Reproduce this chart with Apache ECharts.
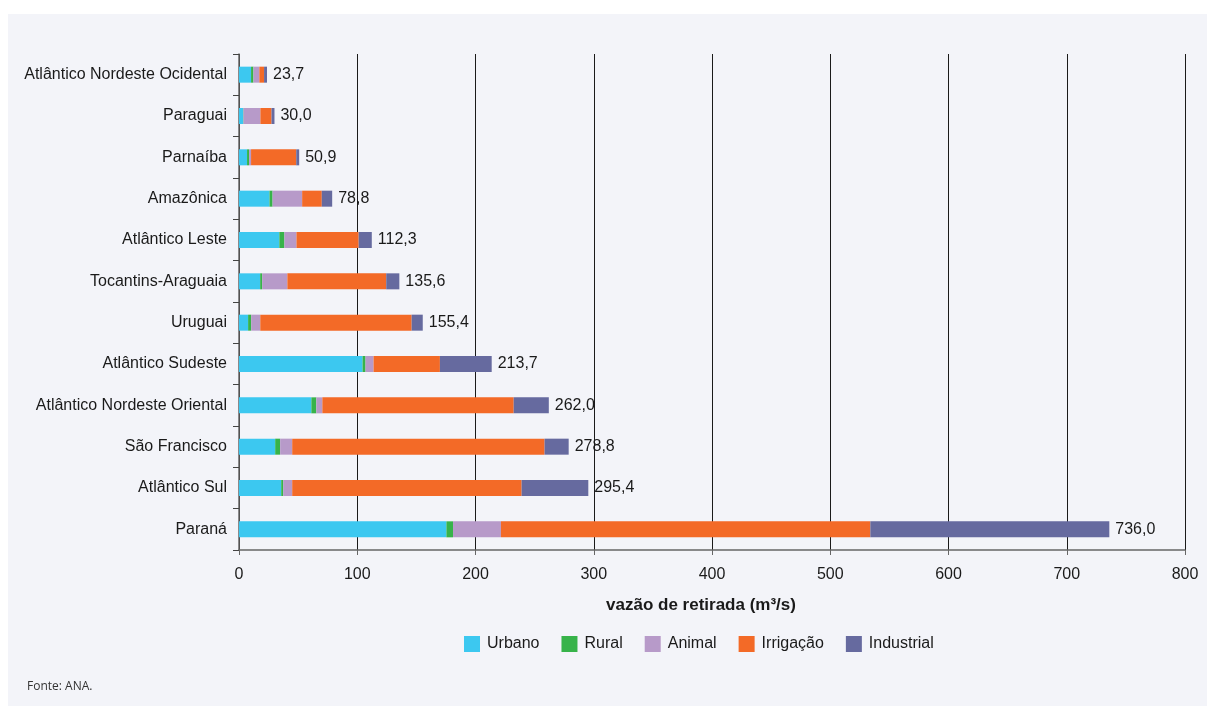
<!DOCTYPE html>
<html>
<head>
<meta charset="utf-8">
<script src="https://cdn.jsdelivr.net/npm/echarts@6/dist/echarts.min.js"></script>
<style>
  html, body { margin: 0; padding: 0; background: #ffffff; }
  #wrap { position: absolute; left: 8px; top: 14px; width: 1199px; height: 692px; background: #f3f4f9; }
  #chart { position: absolute; left: -8px; top: -14px; width: 1207px; height: 706px; }
</style>
</head>
<body>
<div id="wrap"><div id="chart"></div></div>
<script>
// Regiões hidrográficas (de cima para baixo)
const regioes = [
  'Atlântico Nordeste Ocidental', 'Paraguai', 'Parnaíba', 'Amazônica',
  'Atlântico Leste', 'Tocantins-Araguaia', 'Uruguai', 'Atlântico Sudeste',
  'Atlântico Nordeste Oriental', 'São Francisco', 'Atlântico Sul', 'Paraná'
];

// Vazão de retirada por uso (m³/s)
const urbano     = [10.2, 3.5, 6.8, 25.8, 34.1, 17.9, 7.7, 104.5, 61.2, 30.6, 35.7, 175.4];
const rural      = [2.0, 0.3, 1.7, 2.6, 4.3, 1.7, 2.6, 2.5, 4.2, 4.2, 1.7, 5.6];
const animal     = [5.0, 14.3, 1.7, 25.0, 10.2, 21.3, 7.7, 6.8, 5.1, 10.2, 7.6, 40.5];
const irrigacao  = [4.0, 9.4, 38.2, 16.6, 52.6, 83.6, 128.0, 56.1, 161.8, 213.4, 194.0, 312.4];
const industrial = [2.5, 2.5, 2.5, 8.8, 11.1, 11.1, 9.4, 43.8, 29.7, 20.4, 56.4, 202.1];

// Totais por região
const totais = [23.7, 30.0, 50.9, 78.8, 112.3, 135.6, 155.4, 213.7, 262.0, 278.8, 295.4, 736.0];

const eixoX = { min: 0, max: 800, interval: 100 };

const fonte = '"Liberation Sans", Arial, sans-serif';

const usos = [
  { name: 'Urbano', data: urbano, color: '#3cc8f0' },
  { name: 'Rural', data: rural, color: '#37b34a' },
  { name: 'Animal', data: animal, color: '#b79ac9' },
  { name: 'Irrigação', data: irrigacao, color: '#f36a27' },
  { name: 'Industrial', data: industrial, color: '#666a9f' }
];

const chart = echarts.init(document.getElementById('chart'), null, { renderer: 'canvas' });

const series = usos.map((u, i) => ({
  name: u.name,
  type: 'bar',
  stack: 'total',
  barWidth: 16,
  data: u.data,
  itemStyle: { color: u.color },
  label: i === usos.length - 1 ? {
    show: true,
    position: 'right',
    distance: 6,
    fontFamily: fonte,
    fontSize: 16,
    color: '#1a1a1a',
    formatter: p => totais[p.dataIndex].toFixed(1).replace('.', ',')
  } : { show: false }
}));

chart.setOption({
  backgroundColor: 'transparent',
  animation: false,
  textStyle: { fontFamily: fonte },
  grid: { left: 239, right: 22, top: 54, height: 496 },
  legend: {
    top: 631,
    left: 459,
    itemWidth: 16,
    itemHeight: 16,
    itemGap: 22,
    icon: 'rect',
    textStyle: { fontFamily: fonte, fontSize: 16, color: '#1a1a1a', padding: [0, 0, 0, 2] },
    data: usos.map(u => u.name)
  },
  xAxis: {
    type: 'value',
    min: eixoX.min,
    max: eixoX.max,
    interval: eixoX.interval,
    name: 'vazão de retirada (m³/s)',
    nameLocation: 'middle',
    nameGap: 47,
    nameTextStyle: { fontFamily: fonte, fontSize: 17, fontWeight: 'bold', color: '#1a1a1a', padding: [0, 22, 0, 0] },
    axisLine: { show: true, lineStyle: { color: '#666666', width: 1.5 } },
    axisTick: { show: true, length: 5, lineStyle: { color: '#666666' } },
    axisLabel: { fontFamily: fonte, fontSize: 16, color: '#1a1a1a', margin: 17 },
    splitLine: { show: true, lineStyle: { color: '#1a1a1a', width: 1 } }
  },
  yAxis: {
    type: 'category',
    inverse: true,
    data: regioes,
    axisLine: { show: true, lineStyle: { color: '#666666', width: 1.5 } },
    axisTick: { show: true, length: 6, lineStyle: { color: '#444444' } },
    axisLabel: { fontFamily: fonte, fontSize: 16, color: '#1a1a1a', margin: 12 },
    splitLine: { show: false }
  },
  graphic: [{
    type: 'text',
    left: 27,
    top: 681,
    style: { text: 'Fonte: ANA.', fontFamily: '"Open Sans", "Noto Sans", sans-serif', fontSize: 12, fill: '#333333' }
  }],
  series: series
});
</script>
</body>
</html>
